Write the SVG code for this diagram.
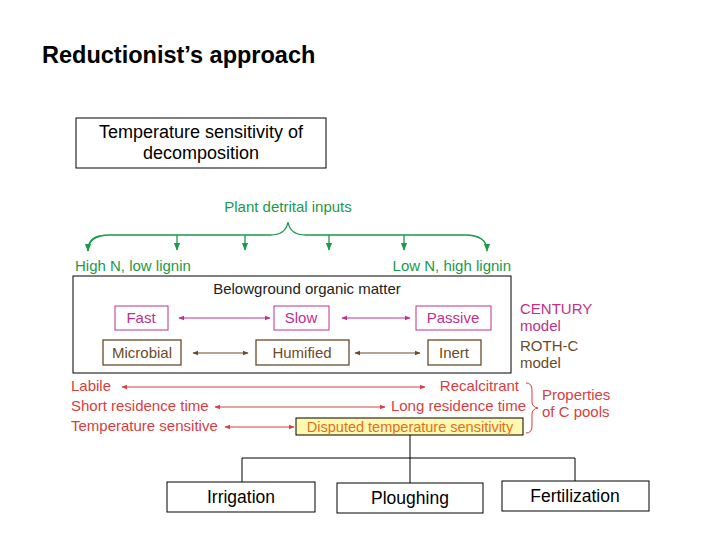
<svg xmlns="http://www.w3.org/2000/svg" width="720" height="540" viewBox="0 0 720 540">
<defs>
<marker id="g" viewBox="0 0 10 10" refX="9" refY="5" markerWidth="6" markerHeight="6" orient="auto"><path d="M0,1L10,5L0,9z" fill="#1a9a4a"/></marker>
<marker id="p" viewBox="0 0 10 10" refX="9" refY="5" markerWidth="5" markerHeight="5" orient="auto-start-reverse"><path d="M0,1L10,5L0,9z" fill="#c0308a"/></marker>
<marker id="b" viewBox="0 0 10 10" refX="9" refY="5" markerWidth="5" markerHeight="5" orient="auto-start-reverse"><path d="M0,1L10,5L0,9z" fill="#6b4a2a"/></marker>
<marker id="r" viewBox="0 0 10 10" refX="9" refY="5" markerWidth="5" markerHeight="5" orient="auto-start-reverse"><path d="M0,1L10,5L0,9z" fill="#d84040"/></marker>
</defs>
<style>
text{font-family:"Liberation Sans",Arial,sans-serif}
.k{fill:none;stroke:#000;stroke-width:1}
.s{font-size:15px}
.gr{fill:#1a9a4a}.pk{fill:#c0308a}.br{fill:#6b4a2a}.rd{fill:#d84040}
</style>
<rect width="720" height="540" fill="#fff"/>
<text x="42" y="63" font-size="23.5" font-weight="bold">Reductionist’s approach</text>
<g id="n-temp"><rect class="k" x="76" y="118" width="250" height="50"/><text x="201" y="138" font-size="18" text-anchor="middle">Temperature sensitivity of</text><text x="201" y="159" font-size="18" text-anchor="middle">decomposition</text></g>
<text class="s gr" x="288" y="212" text-anchor="middle">Plant detrital inputs</text>
<text class="s gr" x="75" y="271">High N, low lignin</text>
<text class="s gr" x="511" y="271" text-anchor="end">Low N, high lignin</text>
<g id="connectors">
<path d="M88,251 Q88,235 110,235 L270,235 Q286,235 288,222 Q290,235 306,235 L465,235 Q487,235 487,251" fill="none" stroke="#1a9a4a" stroke-width="1.3" marker-end="url(#g)"/>
<path d="M100,236 Q88,238 88,251" fill="none" stroke="#1a9a4a" stroke-width="1.3" marker-end="url(#g)"/>
<g stroke="#1a9a4a" stroke-width="1.3" marker-end="url(#g)"><line x1="177" y1="235" x2="177" y2="250"/><line x1="245" y1="235" x2="245" y2="250"/><line x1="329" y1="235" x2="329" y2="250"/><line x1="404" y1="235" x2="404" y2="250"/></g>
<g stroke="#c0308a" stroke-width="1.2" marker-start="url(#p)" marker-end="url(#p)"><line x1="179" y1="318" x2="270" y2="318"/><line x1="342" y1="318" x2="410" y2="318"/></g>
<g stroke="#6b4a2a" stroke-width="1.2" marker-start="url(#b)" marker-end="url(#b)"><line x1="193" y1="353" x2="248" y2="353"/><line x1="355" y1="353" x2="420" y2="353"/></g>
<g stroke="#d84040" stroke-width="1.2" marker-start="url(#r)" marker-end="url(#r)"><line x1="122" y1="387" x2="425" y2="387"/><line x1="215" y1="407" x2="385" y2="407"/><line x1="225" y1="427" x2="294" y2="427"/></g>
<path d="M526,383 Q532,383 532,390 L532,402 Q532,407 538,408 Q532,409 532,414 L532,426 Q532,433 526,433" fill="none" stroke="#d84040" stroke-width="1"/>
<path class="k" d="M410,435V458M242,458H575M242,458V482M410,458V483M575,458V481"/>
</g>
<g id="n-bom"><rect class="k" x="73" y="276" width="438" height="97" stroke-width="1.2"/><text class="s" x="307" y="294" text-anchor="middle" fill="#222">Belowground organic matter</text></g>
<g id="n-fast"><rect x="115" y="306" width="53" height="24" fill="none" stroke="#c0308a"/><text class="s pk" x="141" y="323" text-anchor="middle">Fast</text></g>
<g id="n-slow"><rect x="274" y="306" width="55" height="24" fill="none" stroke="#c0308a"/><text class="s pk" x="301" y="323" text-anchor="middle">Slow</text></g>
<g id="n-passive"><rect x="416" y="306" width="75" height="24" fill="none" stroke="#c0308a"/><text class="s pk" x="453" y="323" text-anchor="middle">Passive</text></g>
<g id="n-micro"><rect x="103" y="340" width="78" height="25" fill="none" stroke="#6b4a2a" stroke-width="1.3"/><text class="s br" x="142" y="358" text-anchor="middle">Microbial</text></g>
<g id="n-hum"><rect x="256" y="340" width="93" height="25" fill="none" stroke="#6b4a2a" stroke-width="1.3"/><text class="s br" x="302" y="358" text-anchor="middle">Humified</text></g>
<g id="n-inert"><rect x="428" y="340" width="53" height="25" fill="none" stroke="#6b4a2a" stroke-width="1.3"/><text class="s br" x="454" y="358" text-anchor="middle">Inert</text></g>
<text class="s pk" x="520" y="314">CENTURY</text><text class="s pk" x="520" y="331">model</text>
<text class="s br" x="520" y="351">ROTH-C</text><text class="s br" x="520" y="368">model</text>
<text class="s rd" x="71" y="391">Labile</text>
<text class="s rd" x="519" y="391" text-anchor="end">Recalcitrant</text>
<text class="s rd" x="71" y="411">Short residence time</text>
<text class="s rd" x="526" y="411" text-anchor="end">Long residence time</text>
<text class="s rd" x="71" y="431">Temperature sensitive</text>
<text class="s rd" x="542" y="400">Properties</text><text class="s rd" x="542" y="417">of C pools</text>
<g id="n-disputed"><rect x="296" y="418" width="227" height="17" fill="#fff8b0" stroke="#000"/><text x="410" y="431.5" font-size="14.5" text-anchor="middle" fill="#e07020">Disputed temperature sensitivity</text></g>
<g id="n-irr"><rect class="k" x="167" y="482" width="148" height="30"/><text x="241" y="503" font-size="17.5" text-anchor="middle">Irrigation</text></g>
<g id="n-plough"><rect class="k" x="337" y="483" width="146" height="30"/><text x="410" y="504" font-size="17.5" text-anchor="middle">Ploughing</text></g>
<g id="n-fert"><rect class="k" x="502" y="481" width="147" height="30"/><text x="575" y="502" font-size="17.5" text-anchor="middle">Fertilization</text></g>
</svg>
